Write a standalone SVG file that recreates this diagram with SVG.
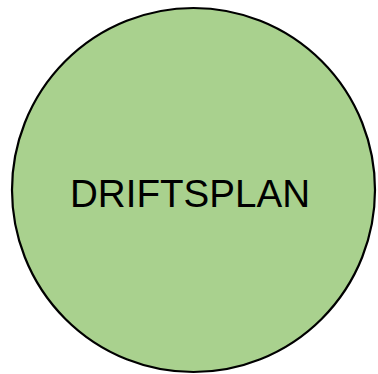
<svg xmlns="http://www.w3.org/2000/svg" width="378" height="374" viewBox="0 0 378 374">
<style>
.node{fill:#A9D18E;stroke:#000;stroke-width:2.2}
.lbl{font-family:"Liberation Sans","Open Sans",sans-serif;font-size:38px;fill:#000}
</style>
<rect width="378" height="374" fill="#fff"/>
<g id="connectors"/>
<g id="driftsplan">
<ellipse class="node" cx="193.5" cy="190" rx="181.5" ry="182"/>
<text class="lbl" x="190" y="207" text-anchor="middle" textLength="240" lengthAdjust="spacingAndGlyphs">DRIFTSPLAN</text>
</g>
</svg>
